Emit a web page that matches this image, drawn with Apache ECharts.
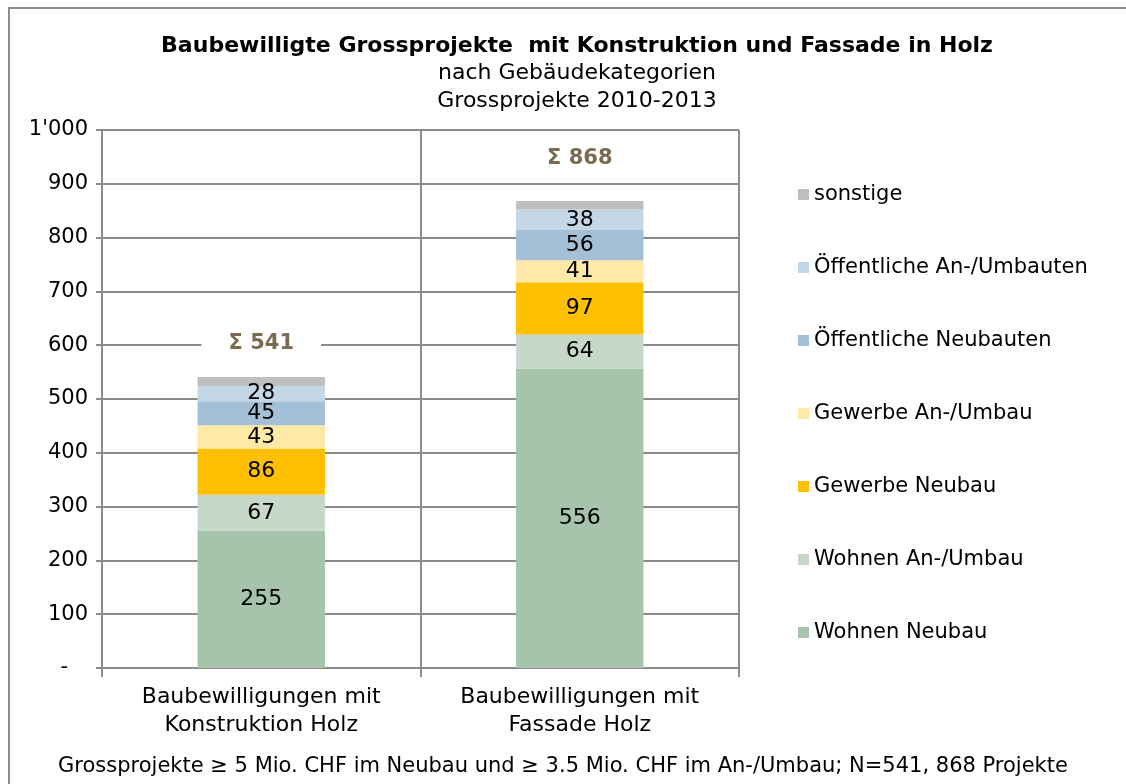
<!DOCTYPE html>
<html>
<head>
<meta charset="utf-8">
<script src="https://cdn.jsdelivr.net/npm/echarts@6/dist/echarts.min.js"></script>
<style>
  html, body { margin: 0; padding: 0; background: #fff; }
  #chart { width: 1126px; height: 784px; }
</style>
</head>
<body>
<div id="chart"></div>
<script>
var categories = ['Baubewilligungen mit\nKonstruktion Holz', 'Baubewilligungen mit\nFassade Holz'];
var seriesNames = ['Wohnen Neubau', 'Wohnen An-/Umbau', 'Gewerbe Neubau', 'Gewerbe An-/Umbau',
                   'Öffentliche Neubauten', 'Öffentliche An-/Umbauten', 'sonstige'];
var wohnenNeubau = [255, 556];
var wohnenUmbau = [67, 64];
var gewerbeNeubau = [86, 97];
var gewerbeUmbau = [43, 41];
var oeffNeubau = [45, 56];
var oeffUmbau = [28, 38];
var sonstige = [17, 16];
var totals = [541, 868];

var colors = ['#a6c3ab', '#c6d9c9', '#ffc000', '#ffe9a7', '#a3c0d7', '#c4d7e6', '#bfbfbf'];
var values = [wohnenNeubau, wohnenUmbau, gewerbeNeubau, gewerbeUmbau, oeffNeubau, oeffUmbau, sonstige];
var sumDistance = [21, 30];
var font = 'DejaVu Sans';

var series = values.map(function (vals, i) {
    var isTop = i === values.length - 1;
    return {
        name: seriesNames[i],
        type: 'bar',
        stack: 'total',
        barWidth: '40%',
        itemStyle: { color: colors[i] },
        label: {
            show: !isTop,
            position: 'inside',
            color: '#000',
            fontSize: 22,
            fontFamily: font
        },
        data: vals.map(function (v, j) {
            if (!isTop) return v;
            return {
                value: v,
                label: {
                    show: true,
                    position: 'top',
                    distance: sumDistance[j],
                    formatter: 'Σ ' + totals[j],
                    color: '#7a6a4f',
                    fontWeight: 'bold',
                    fontSize: 21,
                    fontFamily: font,
                    backgroundColor: '#fff',
                    padding: [2, 27]
                }
            };
        })
    };
});

var chart = echarts.init(document.getElementById('chart'));
chart.setOption({
    animation: false,
    textStyle: { fontFamily: font },
    title: {
        text: 'Baubewilligte Grossprojekte  mit Konstruktion und Fassade in Holz',
        subtext: 'nach Gebäudekategorien\nGrossprojekte 2010-2013',
        left: 572,
        textAlign: 'center',
        top: 30,
        itemGap: 2,
        textStyle: { fontSize: 22, fontWeight: 'bold', color: '#000', fontFamily: font },
        subtextStyle: { fontSize: 22, color: '#000', lineHeight: 28, fontFamily: font }
    },
    legend: {
        orient: 'vertical',
        left: 793,
        top: 179,
        itemWidth: 11,
        itemHeight: 11,
        itemGap: 52,
        icon: 'rect',
        data: seriesNames.slice().reverse(),
        textStyle: { fontSize: 21, color: '#000', fontFamily: font }
    },
    grid: { left: 102, right: 387, top: 130, bottom: 116 },
    xAxis: {
        type: 'category',
        data: categories,
        axisLine: { lineStyle: { color: '#8c8c8c', width: 2 } },
        axisTick: { show: true, length: 9, lineStyle: { color: '#8c8c8c', width: 2 } },
        splitLine: { show: true, lineStyle: { color: '#8c8c8c', width: 2 } },
        axisLabel: { color: '#000', fontSize: 22, lineHeight: 28, margin: 15, fontFamily: font }
    },
    yAxis: {
        type: 'value',
        min: 0,
        max: 1000,
        interval: 100,
        axisLine: { show: true, lineStyle: { color: '#8c8c8c', width: 2 } },
        axisTick: { show: true, length: 6, lineStyle: { color: '#8c8c8c', width: 2 } },
        splitLine: { lineStyle: { color: '#8c8c8c', width: 2 } },
        axisLabel: {
            color: '#000',
            fontSize: 21,
            margin: 14,
            fontFamily: font,
            formatter: function (v) {
                if (v === 0) return '-   ';
                return String(v).replace(/\B(?=(\d{3})+(?!\d))/g, "'");
            }
        }
    },
    graphic: [
        {
            type: 'rect',
            shape: { x: 9, y: 8, width: 1130, height: 790 },
            style: { fill: 'none', stroke: '#8c8c8c', lineWidth: 2 },
            silent: true
        },
        {
            type: 'text',
            left: 'center',
            top: 756,
            style: {
                text: 'Grossprojekte ≥ 5 Mio. CHF im Neubau und ≥ 3.5 Mio. CHF im An-/Umbau; N=541, 868 Projekte',
                fontSize: 21,
                fontFamily: font,
                fill: '#000'
            }
        }
    ],
    series: series
});
</script>
</body>
</html>
